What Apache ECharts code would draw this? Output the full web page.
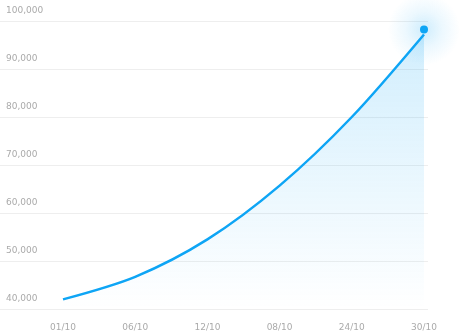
<!DOCTYPE html>
<html><head><meta charset="utf-8">
<script src="https://cdn.jsdelivr.net/npm/echarts@6/dist/echarts.min.js"></script>
<style>html,body{margin:0;padding:0;background:#fff}#c{width:463px;height:332px}</style>
</head><body><div id="c"></div>
<script>
const categories = ['01/10', '06/10', '12/10', '08/10', '24/10', '30/10'];
const values = [42000, 46700, 54500, 65700, 80000, 97200];
const yTicks = [40000, 100000, 10000]; // min, max, step

const chart = echarts.init(document.getElementById('c'));
const lineColor = '#0ea5f5';
const labelFont = { color: '#aaa', fontSize: 9, fontFamily: 'DejaVu Sans' };

const seriesData = values.map((v, i) => i === values.length - 1 ? {
  value: v,
  symbol: 'circle',
  symbolSize: 8,
  symbolOffset: [0, -5],
  itemStyle: { color: lineColor }
} : { value: v, symbol: 'none' });

chart.setOption({
  animation: false,
  grid: [
    { left: 0, right: 35, top: 21, bottom: 23 },
    { left: 63, right: 39, top: 21, bottom: 23 }
  ],
  xAxis: [
    { gridIndex: 0, type: 'value', show: false, min: 0, max: 1 },
    {
      gridIndex: 1, type: 'category', data: categories, boundaryGap: false,
      axisLine: { show: false }, axisTick: { show: false },
      axisLabel: Object.assign({ margin: 14, interval: 0 }, labelFont),
      splitLine: { show: false }
    }
  ],
  yAxis: [
    {
      gridIndex: 0, type: 'value', min: yTicks[0], max: yTicks[1], interval: yTicks[2],
      axisLine: { show: false }, axisTick: { show: false },
      axisLabel: Object.assign({
        inside: true, margin: 6, verticalAlign: 'bottom', padding: [0, 0, 6, 0],
        formatter: v => v.toLocaleString('en-US')
      }, labelFont),
      splitLine: { lineStyle: { color: '#eeeeee', width: 1 } }
    },
    {
      gridIndex: 1, type: 'value', min: yTicks[0], max: yTicks[1], interval: yTicks[2],
      show: false, splitLine: { show: false }
    }
  ],
  series: [{
    type: 'line',
    xAxisIndex: 1, yAxisIndex: 1,
    data: seriesData,
    smooth: 0.3,
    showSymbol: true,
    z: 3,
    lineStyle: { color: lineColor, width: 2.5 },
    itemStyle: { color: lineColor },
    areaStyle: {
      color: new echarts.graphic.LinearGradient(0, 0, 0, 1, [
        { offset: 0, color: 'rgba(14,165,245,0.27)' },
        { offset: 1, color: 'rgba(14,165,245,0)' }
      ])
    },
    markPoint: {
      silent: true,
      symbol: 'circle',
      symbolSize: 72,
      symbolOffset: [0, -5],
      label: { show: false },
      itemStyle: {
        color: new echarts.graphic.RadialGradient(0.5, 0.5, 0.5, [
          { offset: 0, color: 'rgba(14,165,245,0.2)' },
          { offset: 0.5, color: 'rgba(14,165,245,0.08)' },
          { offset: 1, color: 'rgba(14,165,245,0)' }
        ])
      },
      data: [{ type: 'max' }]
    }
  }]
});
</script></body></html>
